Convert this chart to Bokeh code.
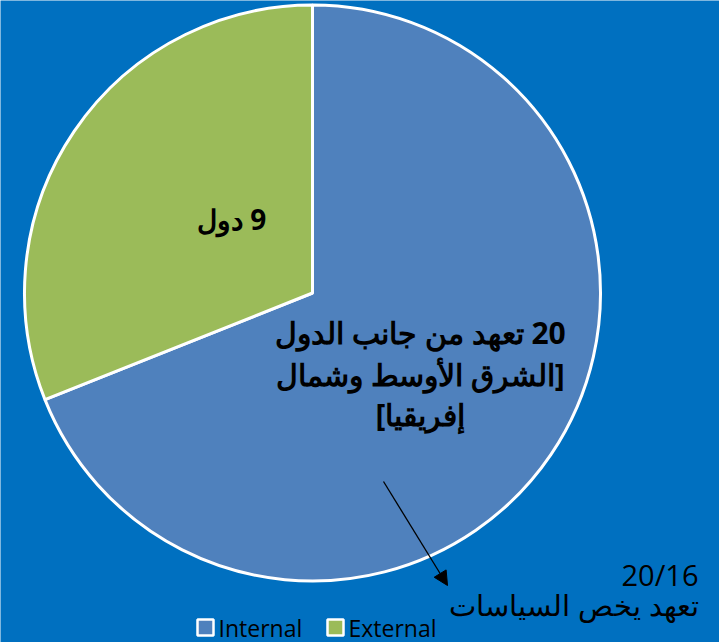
import numpy as np
from bokeh.plotting import figure
from bokeh.models import Range1d, ColumnDataSource, Arrow, NormalHead
from bokeh.core.properties import value
from bokeh.embed import file_html
from bokeh.resources import INLINE

# ---- data ----
categories = ["Internal", "External"]
counts = [20, 9]
colors = ["#4F81BD", "#9BBB59"]
internal_label_lines = ["20 تعهد من جانب الدول", "[الشرق الأوسط وشمال", "إفريقيا]"]
external_label = "9 دول"
note_lines = ["20/16", "تعهد يخص السياسات"]

W, H = 719, 642
BG = "#0070C0"
RLM = "\u200F"

def rtl(s):
    return RLM + s + RLM

def fx(x):  # image px -> figure coords
    return x

def fy(y):
    return H - y

p = figure(width=W, height=H, output_backend="svg", toolbar_location=None,
           x_range=Range1d(0, W), y_range=Range1d(0, H), min_border=0,
           background_fill_color=BG, border_fill_color=BG, outline_line_color=None)
p.axis.visible = False
p.grid.visible = False

total = sum(counts)
fr = np.array(counts) / total * 2 * np.pi
# Internal clockwise from top, External counter-clockwise from top
start = [np.pi / 2 - fr[0], np.pi / 2]
end = [np.pi / 2, np.pi / 2 + fr[1]]
src = ColumnDataSource(dict(x=[fx(312)] * 2, y=[fy(292.5)] * 2, start=start, end=end,
                            color=colors, cat=categories))
p.wedge(x="x", y="y", radius=288, start_angle="start", end_angle="end",
        fill_color="color", line_color="white", line_width=3, source=src)

font = value("Open Sans")
p.text(x=[fx(231)], y=[fy(218)], text=[rtl(external_label)], text_font=font,
       text_font_size="28px", text_font_style="bold", text_align="center",
       text_baseline="middle", text_color="black")
p.text(x=[fx(420)] * 3, y=[fy(332), fy(374), fy(414)],
       text=[rtl(s) for s in internal_label_lines],
       text_font=font, text_font_size="30px", text_font_style="bold",
       text_align="center", text_baseline="middle", text_color="black")
p.text(x=[fx(698)] * 2, y=[fy(574), fy(604)], text=[note_lines[0], rtl(note_lines[1])],
       text_font=font, text_font_size="29px", text_align="right",
       text_baseline="middle", text_color="black")

p.add_layout(Arrow(end=NormalHead(size=14, fill_color="black", line_color="black"),
                   x_start=fx(383), y_start=fy(481), x_end=fx(447), y_end=fy(585),
                   line_color="black", line_width=1.3))

# legend (manual)
leg_x = [fx(205), fx(335)]
leg_y = [fy(627)] * 2
p.scatter(x=leg_x, y=leg_y, marker="square", size=16, fill_color=colors,
          line_color="white", line_width=2.5)
p.text(x=[x + 13 for x in leg_x], y=leg_y, text=categories, text_font=font,
       text_font_size="23px", text_align="left", text_baseline="middle",
       text_color="black")

open("out.html", "w").write(file_html(p, INLINE))
